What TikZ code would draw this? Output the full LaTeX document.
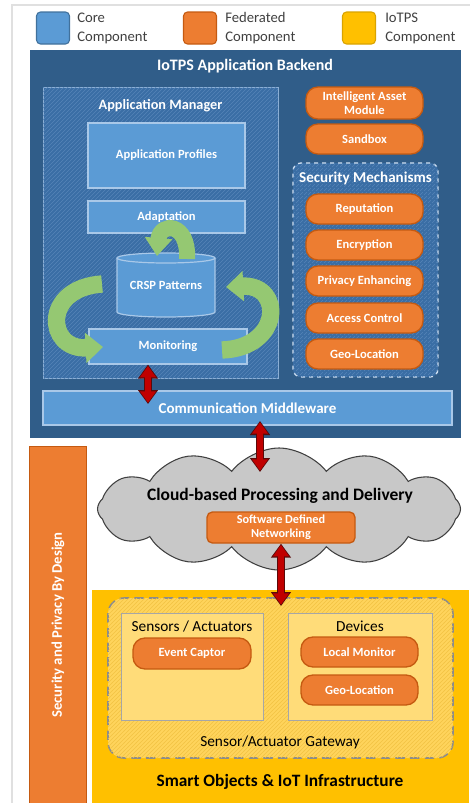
\documentclass[tikz,border=0pt]{standalone}
\usepackage{fontspec}
\setmainfont{Carlito}
\usetikzlibrary{arrows.meta,shapes.geometric,shapes.symbols,patterns}
\definecolor{coreblue}{HTML}{5B9BD5}
\definecolor{coreedge}{HTML}{A9C8E8}
\definecolor{legblueedge}{HTML}{41719C}
\definecolor{fedorange}{HTML}{ED7D31}
\definecolor{orangeedge}{HTML}{C55A11}
\definecolor{iotyellow}{HTML}{FFC000}
\definecolor{yellowedge}{HTML}{D9A300}
\definecolor{backendblue}{HTML}{305D89}
\definecolor{mgrblue}{HTML}{3A6EA5}
\definecolor{mgrhatch}{HTML}{5584B8}
\definecolor{mgredge}{HTML}{8DB0D6}
\definecolor{secedge}{HTML}{D0E0F2}
\definecolor{gwfill}{HTML}{FFD45C}
\definecolor{gwhatch}{HTML}{F2C243}
\definecolor{gwedge}{HTML}{8C8C8C}
\definecolor{boxfill}{HTML}{FFDC79}
\definecolor{boxedge}{HTML}{A6A6A6}
\definecolor{cloudgray}{HTML}{C8C8C8}
\definecolor{cloudedge}{HTML}{404040}
\definecolor{arrowred}{HTML}{C00000}
\definecolor{arrowdark}{HTML}{5A0A0A}
\definecolor{arrowgreen}{HTML}{95C872}
\definecolor{legtextc}{HTML}{404040}
\newcommand\pxu{0.75pt}
\begin{document}
\begin{tikzpicture}[x=0.75pt,y=-0.75pt,
  legsq/.style={rounded corners=3pt, line width=0.8pt, minimum width=33*\pxu, minimum height=32*\pxu, inner sep=0pt},
  legtext/.style={anchor=west, align=left, text=legtextc, font=\fontsize{11}{14.2}\selectfont, inner sep=0pt},
  plainbox/.style={inner sep=0pt, outer sep=0pt},
  corebox/.style={draw=coreedge, fill=coreblue, line width=0.9pt, text=white, align=center, inner sep=0pt, font=\bfseries\fontsize{9.4}{11}\selectfont},
  pill/.style={rounded corners=9pt, draw=orangeedge, fill=fedorange, line width=1pt, text=white, align=center, inner sep=0pt, minimum width=117*\pxu, minimum height=30*\pxu, font=\bfseries\fontsize{9.4}{10.5}\selectfont},
  redunder/.style={draw=arrowdark, line width=6pt, {Triangle[length=10.5pt,width=14.5pt]}-{Triangle[length=10.5pt,width=14.5pt]}},
  redarrow/.style={draw=arrowred, line width=4.2pt, shorten >=1pt, shorten <=1pt, {Triangle[length=8.5pt,width=11.5pt]}-{Triangle[length=8.5pt,width=11.5pt]}},
  greenarrow/.style={draw=arrowgreen, line width=13pt, -{Triangle[length=13pt,width=22pt]}},
  title/.style={text=white, font=\bfseries\fontsize{12}{14}\selectfont, inner sep=0pt}
]
\useasboundingbox (0,0) rectangle (469,803);
% outer frame
\draw[black!12, line width=0.8pt] (12,5) rectangle (475,810);

% legend
\node[legsq, fill=coreblue, draw=legblueedge] (lgcore) at (53,28) {};
\node[legtext] (lgcoret) at (77,28) {Core\\Component};
\node[legsq, fill=fedorange, draw=orangeedge] (lgfed) at (200,28) {};
\node[legtext] (lgfedt) at (225,28) {Federated\\Component};
\node[legsq, fill=iotyellow, draw=yellowedge] (lgiot) at (359,28) {};
\node[legtext] (lgiott) at (385,28) {IoTPS\\Component};

% backend
\node[plainbox, fill=backendblue, minimum width=431*\pxu, minimum height=388*\pxu] (backend) at (245.5,244) {};
\node[title] (backendt) at (245,66) {IoTPS Application Backend};

% application manager
\node[plainbox, fill=mgrblue, draw=mgredge, line width=0.6pt, postaction={pattern=north east lines, pattern color=mgrhatch}, minimum width=235*\pxu, minimum height=291*\pxu] (mgr) at (160.5,232.5) {};
\node[title, font=\bfseries\fontsize{10.7}{12}\selectfont] (mgrt) at (160.5,106) {Application Manager};
\node[corebox, minimum width=157*\pxu, minimum height=65*\pxu] (prof) at (166.5,155.5) {Application Profiles};
\node[corebox, minimum width=157*\pxu, minimum height=32*\pxu] (adapt) at (166.5,217) {Adaptation};

% cylinder CRSP
\fill[coreblue] (117,258) rectangle (215,312);
\fill[coreblue] (166,312) ellipse [x radius=49, y radius=5];
\draw[coreedge, line width=0.9pt] (117,258) -- (117,312) arc[start angle=180, end angle=0, x radius=49, y radius=5] -- (215,258);
\draw[coreedge, line width=0.9pt, fill=coreblue] (166,258) ellipse [x radius=49, y radius=5];
\node[plainbox, text=white, font=\bfseries\fontsize{9.4}{11}\selectfont, minimum width=98*\pxu, minimum height=50*\pxu] (crsp) at (166,285) {CRSP Patterns};

\node[corebox, minimum width=158*\pxu, minimum height=35*\pxu] (mon) at (168,346.5) {Monitoring};

% green arrows
\draw[greenarrow, line width=12pt, -{Triangle[length=13.5pt,width=20pt]}] (187,259) .. controls (189,222) and (160,222) .. (157,256);
\draw[greenarrow] (102,284) .. controls (42,288) and (46,350) .. (103,347);
\draw[greenarrow] (222,350) .. controls (282,348) and (284,284) .. (226,287);

% communication middleware
\node[corebox, minimum width=409*\pxu, minimum height=34*\pxu, font=\bfseries\fontsize{11.3}{13}\selectfont] (comm) at (247.5,408) {Communication Middleware};

% right column
\node[pill, minimum height=32*\pxu] (iam) at (364.5,103) {Intelligent Asset\\Module};
\node[pill] (sandbox) at (364.5,139) {Sandbox};
\node[plainbox, rounded corners=6pt, fill=mgrblue, draw=secedge, dashed, line width=1pt, postaction={pattern=north east lines, pattern color=mgrhatch}, minimum width=145*\pxu, minimum height=214*\pxu] (sec) at (365.5,270) {};
\node[title, font=\bfseries\fontsize{11.3}{13}\selectfont] (sect) at (365.5,178) {Security Mechanisms};
\node[pill] (rep) at (364.5,209) {Reputation};
\node[pill] (enc) at (364.5,245) {Encryption};
\node[pill] (priv) at (364.5,281) {Privacy Enhancing};
\node[pill] (acc) at (364.5,318) {Access Control};
\node[pill] (geo) at (364.5,354) {Geo-Location};

% cloud
\node[cloud, cloud puffs=12, cloud puff arc=105, cloud ignores aspect, fill=cloudgray, draw=cloudedge, line width=0.8pt, minimum width=363*\pxu, minimum height=122*\pxu] (cloud) at (279,509) {};
\node[plainbox, font=\bfseries\fontsize{13.1}{15}\selectfont] (cloudt) at (280,496) {Cloud-based Processing and Delivery};
\node[pill, rounded corners=4pt, minimum width=148*\pxu, minimum height=31*\pxu, font=\bfseries\fontsize{9.2}{10.5}\selectfont] (sdn) at (281,527.5) {Software Defined\\Networking};

% security bar
\node[plainbox, fill=fedorange, draw=orangeedge, line width=0.6pt, minimum width=57*\pxu, minimum height=357*\pxu] (secbar) at (57.5,624.5) {};
\node[plainbox, rotate=90, text=white, font=\bfseries\fontsize{11}{13}\selectfont] (secbart) at (58,625) {Security and Privacy By Design};

% smart objects
\node[plainbox, fill=iotyellow, minimum width=377*\pxu, minimum height=213*\pxu] (smart) at (280.5,696.5) {};
\node[plainbox, rounded corners=12pt, fill=gwfill, draw=gwedge, dashed, dash pattern=on 7pt off 4pt, line width=1.2pt, postaction={pattern=north east lines, pattern color=gwhatch}, minimum width=345*\pxu, minimum height=160*\pxu] (gw) at (280.5,678) {};
\node[plainbox, fill=boxfill, draw=boxedge, line width=0.7pt, minimum width=142*\pxu, minimum height=107*\pxu] (sens) at (192,666.5) {};
\node[plainbox, fill=boxfill, draw=boxedge, line width=0.7pt, minimum width=144*\pxu, minimum height=107*\pxu] (dev) at (360,666.5) {};
\node[plainbox, font=\fontsize{11.5}{13}\selectfont] (senst) at (192,626) {Sensors / Actuators};
\node[plainbox, font=\fontsize{11.5}{13}\selectfont] (devt) at (360,626) {Devices};
\node[pill, minimum width=118*\pxu, minimum height=31*\pxu] (event) at (192,653.5) {Event Captor};
\node[pill] (local) at (359.5,652) {Local Monitor};
\node[pill] (geo2) at (359.5,690) {Geo-Location};
\node[plainbox, font=\fontsize{11.5}{13}\selectfont] (gwt) at (280,742) {Sensor/Actuator Gateway};
\node[plainbox, font=\bfseries\fontsize{13}{15}\selectfont] (smartt) at (280,782) {Smart Objects \& IoT Infrastructure};

% red arrows
\coordinate (a1) at (148,404);
\draw[redunder] (mon.south -| a1) -- (a1);
\draw[redarrow] (mon.south -| a1) -- (a1);
\coordinate (a2t) at (260,421);
\coordinate (a2b) at (260,472);
\draw[redunder] (a2t) -- (a2b);
\draw[redarrow] (a2t) -- (a2b);
\coordinate (a3) at (281,606);
\draw[redunder] (sdn.south) -- (a3);
\draw[redarrow] (sdn.south) -- (a3);
\end{tikzpicture}
\end{document}
